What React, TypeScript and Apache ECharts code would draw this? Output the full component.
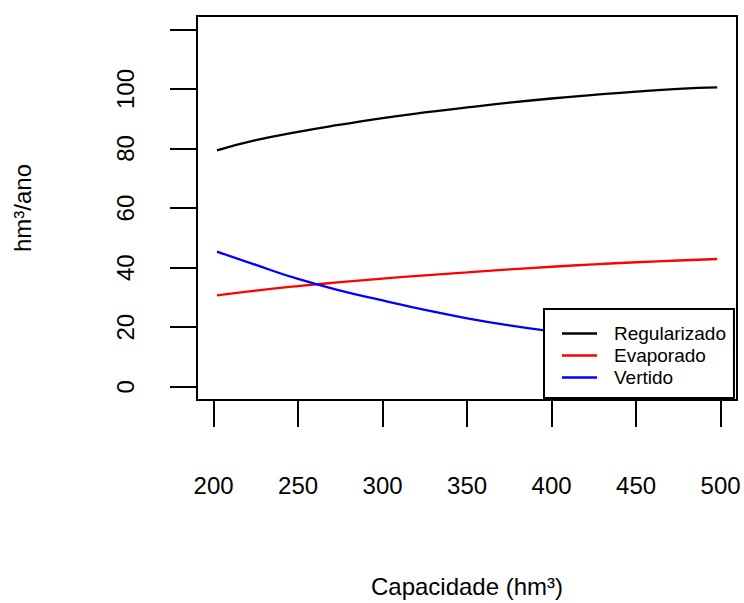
import React, { useEffect, useRef } from "react";
import * as echarts from "echarts";

const capacidade = [202, 225, 250, 275, 300, 325, 350, 375, 400, 425, 450, 475, 498];
const regularizado = [79.4, 82.8, 85.6, 88.0, 90.2, 92.1, 93.8, 95.4, 96.8, 98.0, 99.1, 100.0, 100.5];
const evaporado = [30.7, 32.3, 33.8, 35.1, 36.3, 37.4, 38.4, 39.4, 40.3, 41.1, 41.8, 42.4, 42.9];
const vertido = [45.4, 40.9, 36.2, 32.3, 29.0, 25.8, 23.0, 20.6, 18.6, 16.9, 15.4, 14.1, 13.0];

const xTicks = [200, 250, 300, 350, 400, 450, 500];
const yTicks = [0, 20, 40, 60, 80, 100, 120];
const yLabels = [0, 20, 40, 60, 80, 100];

const seriesNames = ["Regularizado", "Evaporado", "Vertido"];
const seriesColors = ["#000000", "#ff0000", "#0000ff"];
const seriesValues = [regularizado, evaporado, vertido];

export default function App() {
  const ref = useRef<HTMLDivElement>(null);
  useEffect(() => {
    const chart = echarts.init(ref.current!, null, { renderer: "svg" });
    const font = "'Liberation Sans', Arial, sans-serif";
    chart.setOption({
      animation: false,
      backgroundColor: "#ffffff",
      grid: {
        left: 197,
        top: 16,
        right: 7,
        bottom: 202,
        show: true,
        borderColor: "#000",
        borderWidth: 2,
        backgroundColor: "transparent",
      },
      xAxis: {
        type: "value",
        min: 190.2,
        max: 509.7,
        splitLine: { show: false },
        axisLine: { show: false, onZero: false },
        axisTick: {
          show: true,
          length: 27,
          lineStyle: { color: "#000", width: 2 },
          customValues: xTicks,
        },
        axisLabel: {
          customValues: xTicks,
          margin: 73,
          fontSize: 24,
          color: "#000",
          fontFamily: font,
        },
        name: "Capacidade (hm³)",
        nameLocation: "middle",
        nameGap: 174,
        nameTextStyle: { fontSize: 24, color: "#000", fontFamily: font },
      },
      yAxis: {
        type: "value",
        min: -4.45,
        max: 124.5,
        splitLine: { show: false },
        axisLine: { show: false, onZero: false },
        axisTick: {
          show: true,
          length: 27,
          lineStyle: { color: "#000", width: 2 },
          customValues: yTicks,
        },
        axisLabel: {
          customValues: yLabels,
          rotate: 90,
          margin: 60,
          fontSize: 24,
          color: "#000",
          fontFamily: font,
        },
        name: "hm³/ano",
        nameLocation: "middle",
        nameRotate: 90,
        nameGap: 163,
        nameTextStyle: { fontSize: 24, color: "#000", fontFamily: font },
      },
      legend: {
        orient: "vertical",
        left: 544,
        top: 309,
        padding: [15, 8, 11, 18],
        icon: "rect",
        itemWidth: 35,
        itemHeight: 2.4,
        itemGap: 3,
        backgroundColor: "#ffffff",
        borderColor: "#000",
        borderWidth: 2,
        borderRadius: 0,
        textStyle: { fontSize: 19, fontFamily: font, color: "#000", padding: [0, 0, 0, 12] },
        data: seriesNames,
      },
      series: seriesNames.map((name, k) => ({
        name,
        type: "line",
        data: capacidade.map((x, i) => [x, seriesValues[k][i]]),
        symbol: "none",
        showSymbol: false,
        smooth: true,
        lineStyle: { color: seriesColors[k], width: 2.3 },
        itemStyle: { color: seriesColors[k] },
      })),
    });
    return () => chart.dispose();
  }, []);
  return (
    <div
      ref={ref}
      style={{ position: "fixed", left: 0, top: 0, width: 744, height: 603 }}
    />
  );
}
